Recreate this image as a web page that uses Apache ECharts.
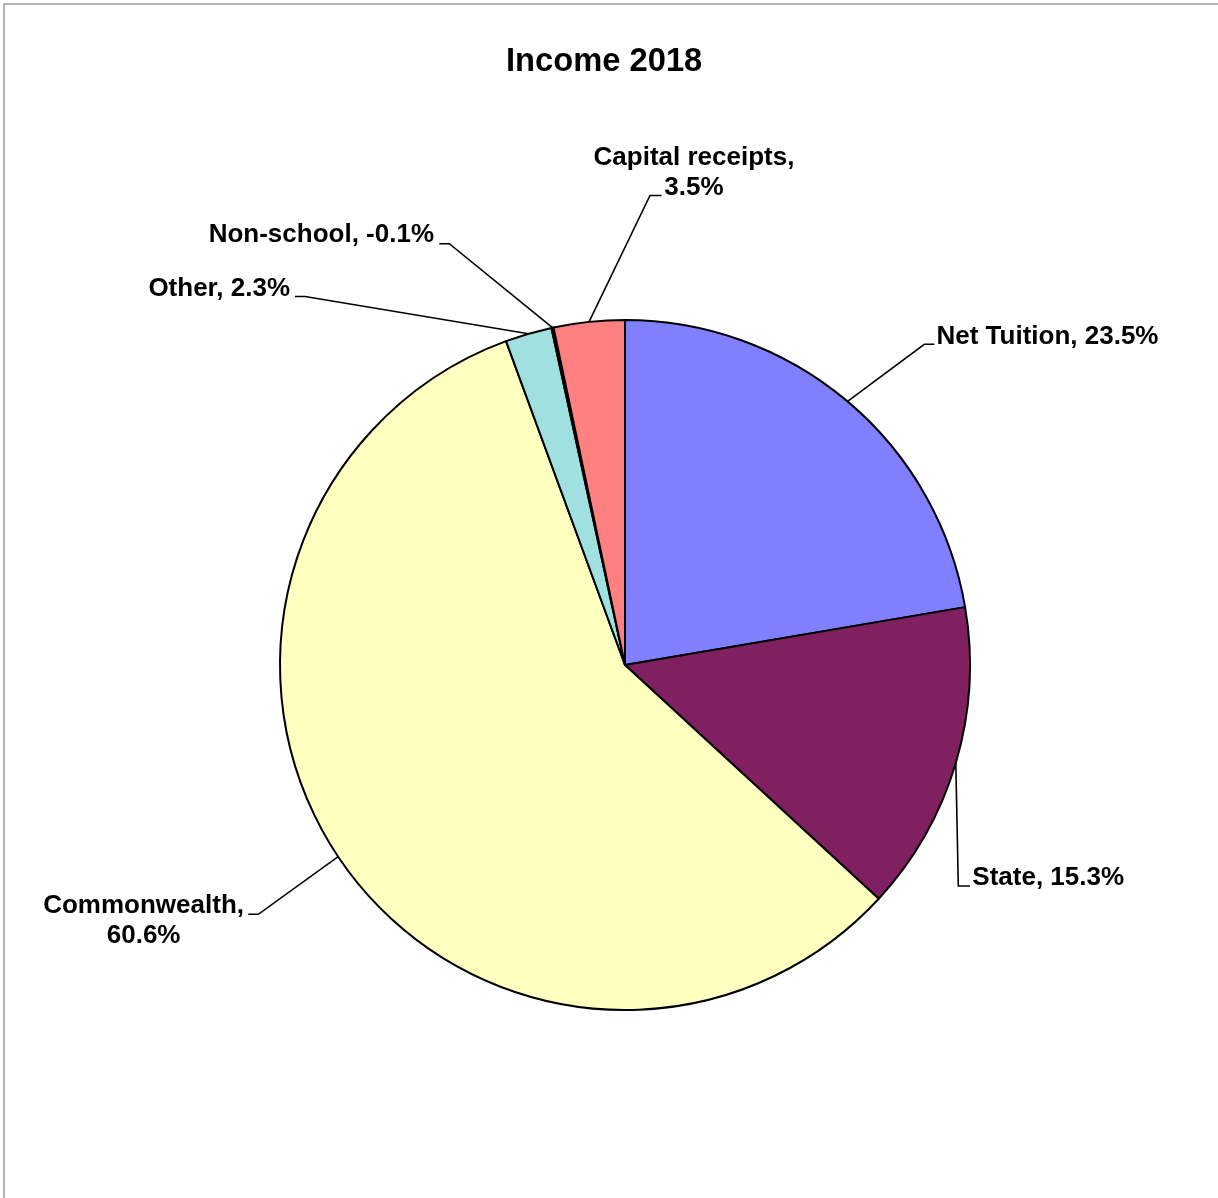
<!DOCTYPE html>
<html>
<head>
<meta charset="utf-8">
<title>Income 2018</title>
<script src="https://cdn.jsdelivr.net/npm/echarts@6/dist/echarts.min.js"></script>
<style>
  html, body { margin: 0; padding: 0; background: #ffffff; }
  #chart { width: 1218px; height: 1198px; }
</style>
</head>
<body>
<div id="chart"></div>
<script>
// Income sources, clockwise from 12 o'clock
const categories = ['Net Tuition', 'State', 'Commonwealth', 'Other', 'Non-school', 'Capital receipts'];
// Share of income, in percent (as labelled)
const shares = [23.5, 15.3, 60.6, 2.3, -0.1, 3.5];
const sliceColors = ['#8080FF', '#802060', '#FFFFC0', '#A0E0E0', '#600080', '#FF8080'];
const chartTitle = 'Income 2018';

const FONT = '"Liberation Sans", Arial, Helvetica, sans-serif';
const PIE_CENTER = [625, 665];
const PIE_RADIUS = 345;

// Label placement, as offsets from the pie centre.
// text: label anchor; elbow/end: bends of the leader line.
// wrap: break the label after the comma; rightBlock: centred lines, right-aligned block.
const labelPlacement = {
  'Net Tuition':      { text: [311.5, -328.6], align: 'left',   elbow: [299.3, -320.7], end: [309.3, -320.7] },
  'State':            { text: [347.3, 212.9],  align: 'left',   elbow: [333.3, 221.0],  end: [345.0, 221.0] },
  'Commonwealth':     { text: [-381.0, 256.0], align: 'right',  elbow: [-366.7, 249.3], end: [-376.7, 249.3], wrap: true, rightBlock: true },
  'Other':            { text: [-335.0, -376.3], align: 'right', elbow: [-320.0, -368.5], end: [-330.0, -368.5] },
  'Non-school':       { text: [-191.0, -430.5], align: 'right', elbow: [-175.7, -421.3], end: [-185.7, -421.3] },
  'Capital receipts': { text: [69.0, -492.0],  align: 'center', elbow: [25.0, -469.5],  end: [36.5, -469.5], wrap: true }
};

const chart = echarts.init(document.getElementById('chart'), null, { renderer: 'canvas' });

const option = {
  backgroundColor: '#ffffff',
  animation: false,
  title: {
    text: chartTitle,
    left: 506,
    top: 45,
    padding: 0,
    textStyle: {
      fontFamily: FONT,
      fontWeight: 'bold',
      fontSize: 32.7,
      lineHeight: 33,
      color: '#000000'
    }
  },
  graphic: [{
    type: 'polyline',
    silent: true,
    shape: { points: [[4, 1198], [4, 4], [1218, 4]] },
    style: { stroke: '#9a9a9a', lineWidth: 1.5, fill: null }
  }],
  series: [{
    type: 'pie',
    center: PIE_CENTER,
    radius: PIE_RADIUS,
    startAngle: 90,
    clockwise: true,
    avoidLabelOverlap: false,
    silent: true,
    emphasis: { disabled: true },
    itemStyle: { borderColor: '#000000', borderWidth: 2 },
    label: {
      show: true,
      position: 'outside',
      color: '#000000',
      fontFamily: FONT,
      fontWeight: 'bold',
      fontSize: 26,
      lineHeight: 30,
      formatter: function (p) {
        const name = categories[p.dataIndex];
        const pct = shares[p.dataIndex].toFixed(1) + '%';
        return labelPlacement[name].wrap ? name + ',\n' + pct : name + ', ' + pct;
      }
    },
    labelLine: {
      show: true,
      length: 20,
      length2: 10,
      smooth: false,
      lineStyle: { color: '#000000', width: 1.6 }
    },
    labelLayout: function (params) {
      const p = labelPlacement[categories[params.dataIndex]];
      const cx = PIE_CENTER[0], cy = PIE_CENTER[1];
      let x = cx + p.text[0];
      let align = p.align;
      if (p.rightBlock) {
        x -= params.labelRect.width / 2;
        align = 'center';
      }
      const out = { x: x, y: cy + p.text[1], align: align, verticalAlign: 'middle' };
      const pts = params.labelLinePoints;
      if (pts && pts.length) {
        out.labelLinePoints = [
          pts[0],
          [cx + p.elbow[0], cy + p.elbow[1]],
          [cx + p.end[0], cy + p.end[1]]
        ];
      }
      return out;
    },
    data: categories.map(function (name, i) {
      return {
        name: name,
        value: Math.abs(shares[i]),
        itemStyle: { color: sliceColors[i] }
      };
    })
  }]
};

chart.setOption(option);
</script>
</body>
</html>
